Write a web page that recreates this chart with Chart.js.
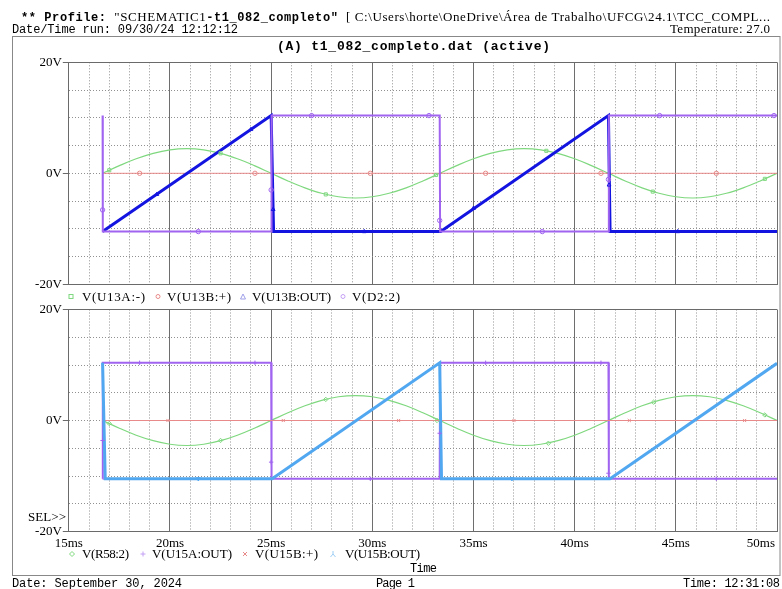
<!DOCTYPE html>
<html>
<head>
<meta charset="utf-8">
<script src="https://cdn.jsdelivr.net/npm/chart.js"></script>
<style>
body { margin: 0; background: #fff; }
#page { position: relative; width: 782px; height: 589px; overflow: hidden; background: #fff; }
canvas { position: absolute; left: 0; }
#topChart { top: 50px; }
#botChart { top: 298px; }
#overlay { position: absolute; left: 0; top: 0; pointer-events: none; }
#overlay text { white-space: pre; }
</style>
</head>
<body>
<div id="page">
<canvas id="topChart" width="782" height="240"></canvas>
<canvas id="botChart" width="782" height="260"></canvas>
<svg id="overlay" width="782" height="589" viewBox="0 0 782 589" xmlns="http://www.w3.org/2000/svg">
  <rect x="12.5" y="36.5" width="767.5" height="539" fill="none" stroke="#888"/>
  <g fill="#000" font-size="12" font-family="Liberation Mono">
    <text x="21" y="20.5" textLength="749" lengthAdjust="spacing"><tspan font-weight="bold">** Profile: </tspan><tspan font-family="Liberation Serif" font-size="13">"SCHEMATIC1</tspan><tspan font-weight="bold">-t1_082_completo"</tspan><tspan font-family="Liberation Serif" font-size="13">  [ C:\Users\horte\OneDrive\Área de Trabalho\UFCG\24.1\TCC_COMPL...</tspan></text>
    <text x="12" y="33" textLength="226" lengthAdjust="spacing">Date/Time run: 09/30/24 12:12:12</text>
    <text x="670" y="33" textLength="100" lengthAdjust="spacing" font-family="Liberation Serif" font-size="13">Temperature: 27.0</text>
    <text x="277" y="50" textLength="273" lengthAdjust="spacing" font-weight="bold" font-size="13">(A) t1_082_completo.dat (active)</text>
    <text x="410" y="571.5" textLength="27" lengthAdjust="spacing">Time</text>
    <text x="12" y="586.5" textLength="170" lengthAdjust="spacing">Date: September 30, 2024</text>
    <text x="376" y="586.5" textLength="39" lengthAdjust="spacing">Page 1</text>
    <text x="683" y="586.5" textLength="97" lengthAdjust="spacing">Time: 12:31:08</text>
  </g>
  <g fill="#000" font-size="13" font-family="Liberation Serif">
    <text x="28" y="520.5" textLength="38" lengthAdjust="spacing">SEL&gt;&gt;</text>
    <text x="82" y="301" textLength="63" lengthAdjust="spacing">V(U13A:-)</text>
    <text x="167" y="301" textLength="64" lengthAdjust="spacing">V(U13B:+)</text>
    <text x="252" y="301" textLength="79" lengthAdjust="spacing">V(U13B:OUT)</text>
    <text x="352" y="301" textLength="48" lengthAdjust="spacing">V(D2:2)</text>
    <text x="82" y="558" textLength="47" lengthAdjust="spacing">V(R58:2)</text>
    <text x="152" y="558" textLength="80" lengthAdjust="spacing">V(U15A:OUT)</text>
    <text x="255" y="558" textLength="63" lengthAdjust="spacing">V(U15B:+)</text>
    <text x="345" y="558" textLength="75" lengthAdjust="spacing">V(U15B:OUT)</text>
  </g>
  <g fill="none" stroke-width="1">
    <rect x="69" y="294.5" width="4" height="4" stroke="#7fd87f"/>
    <circle cx="158" cy="296.5" r="2" stroke="#e88a8a"/>
    <polygon points="243,294 240.5,299 245.5,299" stroke="#9f9fe8"/>
    <circle cx="343" cy="296.5" r="2" stroke="#c4a0f4"/>
    <polygon points="72,551.5 74.5,554 72,556.5 69.5,554" stroke="#7fd87f"/>
    <path d="M140.5,554 H145.5 M143,551.5 V556.5" stroke="#c4a0f4"/>
    <path d="M243,552 L247,556 M247,552 L243,556" stroke="#e88a8a"/>
    <path d="M333,551 V554 L330.5,557 M333,554 L335.5,557" stroke="#9cccf4"/>
  </g>
</svg>
</div>
<script>
// time axis (ms) and voltage labels
const xTicks = [15, 20, 25, 30, 35, 40, 45, 50];
const yLabelTicks = [-20, 0, 20];

// sine traces (ms / V)
const sineT = [16.67, 17.5, 18.33, 19.17, 20, 20.83, 21.67, 22.5, 23.33, 24.17, 25, 25.83, 26.67, 27.5, 28.33, 29.17, 30, 30.83, 31.67, 32.5, 33.33, 34.17, 35, 35.83, 36.67, 37.5, 38.33, 39.17, 40, 40.83, 41.67, 42.5, 43.33, 44.17, 45, 45.83, 46.67, 47.5, 48.33, 49.17, 50];
const u13aMinusV = [0, 1.38, 2.62, 3.6, 4.23, 4.45, 4.23, 3.6, 2.62, 1.38, 0, -1.38, -2.62, -3.6, -4.23, -4.45, -4.23, -3.6, -2.62, -1.38, 0, 1.38, 2.62, 3.6, 4.23, 4.45, 4.23, 3.6, 2.62, 1.38, 0, -1.38, -2.62, -3.6, -4.23, -4.45, -4.23, -3.6, -2.62, -1.38, 0];
const r58V = [0, -1.39, -2.65, -3.64, -4.28, -4.5, -4.28, -3.64, -2.65, -1.39, 0, 1.39, 2.65, 3.64, 4.28, 4.5, 4.28, 3.64, 2.65, 1.39, 0, -1.39, -2.65, -3.64, -4.28, -4.5, -4.28, -3.64, -2.65, -1.39, 0, 1.39, 2.65, 3.64, 4.28, 4.5, 4.28, 3.64, 2.65, 1.39, 0];

// top plot traces
const u13bPlusT = [16.67, 50];
const u13bPlusV = [0, 0];
const u13bOutT = [16.67, 25.0, 25.12, 33.38, 41.67, 41.75, 50];
const u13bOutV = [-10.5, 10.4, -10.5, -10.5, 10.4, -10.5, -10.5];
const d2T = [16.67, 16.68, 25.0, 25.02, 33.33, 33.35, 41.67, 41.69, 50];
const d2V = [10.4, -10.5, -10.5, 10.4, 10.4, -10.5, -10.5, 10.4, 10.4];

// bottom plot traces
const u15bPlusT = [16.67, 50];
const u15bPlusV = [0, 0];
const u15aOutT = [16.67, 16.68, 25.0, 25.02, 33.33, 33.35, 41.67, 41.69, 50];
const u15aOutV = [-10.5, 10.4, 10.4, -10.5, -10.5, 10.4, 10.4, -10.5, -10.5];
const u15bOutT = [16.67, 16.8, 25.05, 33.33, 33.42, 41.75, 50];
const u15bOutV = [10.4, -10.5, -10.5, 10.4, -10.5, -10.5, 10.3];

// trace markers
const u13aMarkT = [17.0, 22.5, 27.7, 33.15, 38.6, 43.86, 49.4];
const u13aMarkV = [0.55, 3.6, -3.8, -0.3, 4.05, -3.3, -1.0];
const u13bPlusMarkT = [18.5, 24.2, 29.9, 35.6, 41.3, 47.0];
const u13bPlusMarkV = [0, 0, 0, 0, 0, 0];
const u13bOutMarkT = [19.35, 24.0, 25.1, 29.6, 35.0, 41.7, 45.1];
const u13bOutMarkV = [-3.8, 7.9, -6.5, -10.5, -6.3, -2.1, -10.5];
const d2MarkT = [16.67, 21.4, 25.0, 27.0, 32.8, 33.33, 38.4, 41.67, 44.2, 49.85];
const d2MarkV = [-6.6, -10.5, -3.0, 10.4, 10.4, -8.5, -10.5, -1.1, 10.4, 10.4];

const r58MarkT = [17.0, 22.5, 27.7, 33.2, 38.7, 43.9, 49.4];
const r58MarkV = [-0.55, -3.6, 3.8, 0.0, -4.1, 3.3, 1.0];
const u15aMarkT = [16.67, 18.5, 24.2, 25.0, 29.9, 33.33, 35.6, 41.3, 41.67, 47.0];
const u15aMarkV = [-3.6, 10.4, 10.4, -7.5, -10.5, -2.3, 10.4, 10.4, -9.5, -10.5];
const u15bPlusMarkT = [19.9, 25.6, 31.3, 37.0, 42.7, 48.4];
const u15bPlusMarkV = [0, 0, 0, 0, 0, 0];
const u15bOutMarkT = [21.4, 36.9];
const u15bOutMarkV = [-10.5, -10.5];

const GREEN = '#7fd87f', RED = '#e88a8a', BLUE = '#1414e0', PURPLE = '#a064f0', LBLUE = '#52a8f0';

function pts(ts, vs) { return ts.map((t, i) => ({ x: t, y: vs[i] })); }

function trace(ts, vs, color, width, tension) {
  return { data: pts(ts, vs), borderColor: color, borderWidth: width, pointRadius: 0, tension: tension || 0, fill: false };
}

function marks(ts, vs, color, style, rot) {
  return { data: pts(ts, vs), showLine: false, borderColor: color, backgroundColor: 'rgba(0,0,0,0)',
    pointStyle: style, pointRotation: rot || 0, pointRadius: 2.2, pointBorderWidth: 1 };
}

const isMajor = c => c.tick && Math.abs(c.tick.value % 5) < 1e-6;
const isEdge = c => c.tick && Math.abs(c.tick.value) === 20;

function plotOptions(padTop, padBottom) {
  return {
    responsive: false,
    animation: false,
    devicePixelRatio: 1,
    layout: { padding: { left: 0, right: 4.8, top: padTop, bottom: padBottom } },
    plugins: { legend: { display: false }, tooltip: { enabled: false } },
    scales: {
      x: {
        type: 'linear', min: 15, max: 50,
        ticks: { display: false, stepSize: 1 },
        grid: { drawTicks: false, lineWidth: 1, color: c => isMajor(c) ? '#6e6e6e' : '#909090' },
        border: { display: true, color: '#6a6a6a', dash: c => isMajor(c) || !c.tick ? [] : [1, 2] },
        afterFit: s => { s.height = 0; s.paddingLeft = 0; s.paddingRight = 0; }
      },
      y: {
        min: -20, max: 20,
        ticks: {
          stepSize: 5, padding: 1, color: '#000',
          font: { family: 'Liberation Serif', size: 13 },
          callback: v => yLabelTicks.includes(v) ? v + 'V' : ''
        },
        grid: {
          tickLength: 6, lineWidth: 1,
          color: c => isEdge(c) ? '#6a6a6a' : '#909090',
          tickColor: c => c.tick && yLabelTicks.includes(c.tick.value) ? '#6a6a6a' : 'rgba(0,0,0,0)'
        },
        border: { display: true, color: '#6a6a6a', dash: c => isEdge(c) || !c.tick ? [] : [1, 2] },
        afterFit: s => { s.width = 68.8; s.paddingTop = 0; s.paddingBottom = 0; }
      }
    }
  };
}

// time labels under the lower plot
const timeLabels = {
  id: 'timeLabels',
  afterDraw(chart) {
    const { ctx, chartArea } = chart;
    const x = chart.scales.x;
    ctx.save();
    ctx.font = '13px "Liberation Serif"';
    ctx.fillStyle = '#000';
    xTicks.forEach(v => {
      const s = v + 'ms';
      const w = ctx.measureText(s).width;
      let cx = x.getPixelForValue(v);
      cx = Math.min(cx, chartArea.right - 2 - w / 2);
      ctx.fillText(s, cx - w / 2, chartArea.bottom + 15);
    });
    ctx.restore();
  }
};

new Chart(document.getElementById('topChart'), {
  type: 'line',
  data: {
    datasets: [
      marks(d2MarkT, d2MarkV, PURPLE, 'circle'),
      marks(u13bOutMarkT, u13bOutMarkV, BLUE, 'triangle'),
      marks(u13bPlusMarkT, u13bPlusMarkV, RED, 'circle'),
      marks(u13aMarkT, u13aMarkV, GREEN, 'rect'),
      trace(d2T, d2V, PURPLE, 2),
      trace(u13bOutT, u13bOutV, BLUE, 3),
      trace(u13bPlusT, u13bPlusV, RED, 1),
      trace(sineT, u13aMinusV, GREEN, 1.2, 0.4)
    ]
  },
  options: plotOptions(12.3, 5.7)
});

new Chart(document.getElementById('botChart'), {
  type: 'line',
  data: {
    datasets: [
      marks(u15bOutMarkT, u15bOutMarkV, LBLUE, 'triangle', 180),
      marks(u15bPlusMarkT, u15bPlusMarkV, RED, 'crossRot'),
      marks(u15aMarkT, u15aMarkV, PURPLE, 'cross'),
      marks(r58MarkT, r58MarkV, GREEN, 'rectRot'),
      trace(u15bOutT, u15bOutV, LBLUE, 3),
      trace(u15bPlusT, u15bPlusV, RED, 1),
      trace(u15aOutT, u15aOutV, PURPLE, 2),
      trace(sineT, r58V, GREEN, 1.2, 0.4)
    ]
  },
  options: plotOptions(11.5, 26.5),
  plugins: [timeLabels]
});
</script>
</body>
</html>
